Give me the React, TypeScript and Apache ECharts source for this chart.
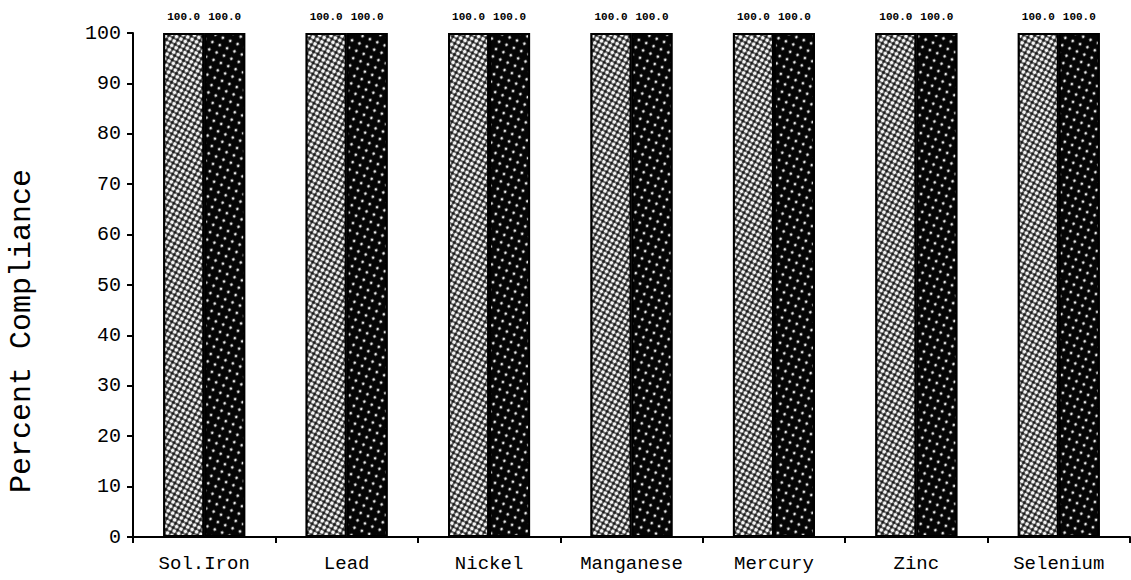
import React, { useEffect, useRef } from "react";
import * as echarts from "echarts";

const categories = ["Sol.Iron", "Lead", "Nickel", "Manganese", "Mercury", "Zinc", "Selenium"];
const seriesA = [100.0, 100.0, 100.0, 100.0, 100.0, 100.0, 100.0];
const seriesB = [100.0, 100.0, 100.0, 100.0, 100.0, 100.0, 100.0];
const yTitle = "Percent Compliance";

const FONT = "'Liberation Mono', 'Courier New', monospace";

export default function App() {
  const ref = useRef<HTMLDivElement>(null);
  useEffect(() => {
    if (!ref.current) return;
    const chart = echarts.init(ref.current, undefined, { renderer: "svg" });
    const label = {
      show: true,
      position: "top",
      distance: 11,
      formatter: (p: any) => Number(p.value).toFixed(1),
      fontFamily: FONT,
      fontWeight: "bold",
      fontSize: 11,
      color: "#000",
    };
    chart.setOption({
      animation: false,
      backgroundColor: "#fff",
      grid: { left: 133, right: 1, top: 33, bottom: 43, containLabel: false },
      xAxis: {
        type: "category",
        data: categories,
        axisLine: { lineStyle: { color: "#000", width: 2 } },
        axisTick: { show: true, length: 6, lineStyle: { color: "#000", width: 2 } },
        axisLabel: { fontFamily: FONT, fontSize: 19, color: "#000", margin: 17 },
        splitLine: { show: false },
      },
      yAxis: {
        type: "value",
        min: 0,
        max: 100,
        interval: 10,
        axisLine: { show: true, lineStyle: { color: "#000", width: 2 } },
        axisTick: { show: true, length: 6, lineStyle: { color: "#000", width: 2 } },
        axisLabel: { fontFamily: FONT, fontSize: 20, color: "#000", margin: 12 },
        splitLine: { show: false },
      },
      graphic: [
        {
          type: "text",
          x: 22,
          y: 331,
          rotation: Math.PI / 2,
          style: {
            text: yTitle,
            fontFamily: FONT,
            fontSize: 30,
            fill: "#000",
            align: "center",
            verticalAlign: "middle",
          },
        },
      ],
      series: [
        {
          type: "bar",
          data: seriesA,
          barWidth: 41,
          barGap: "0%",
          itemStyle: {
            color: "#1a1a1a",
            borderColor: "#000",
            borderWidth: 2,
            decal: {
              symbol: "circle",
              symbolSize: 0.8,
              color: "#f6f6f6",
              dashArrayX: [5, 0],
              dashArrayY: [5, 0],
              rotation: 0.5,
            },
          },
          label,
        },
        {
          type: "bar",
          data: seriesB,
          barWidth: 41,
          barGap: "0%",
          itemStyle: {
            color: "#050505",
            borderColor: "#000",
            borderWidth: 2,
            decal: {
              symbol: "circle",
              symbolSize: 0.35,
              color: "#e8e8e8",
              dashArrayX: [8, 0],
              dashArrayY: [8, 0],
              rotation: 0.4,
            },
          },
          label,
        },
      ],
    });
    return () => chart.dispose();
  }, []);
  return (
    <div
      ref={ref}
      style={{ position: "absolute", left: 0, top: 0, width: 1131, height: 580 }}
    />
  );
}
